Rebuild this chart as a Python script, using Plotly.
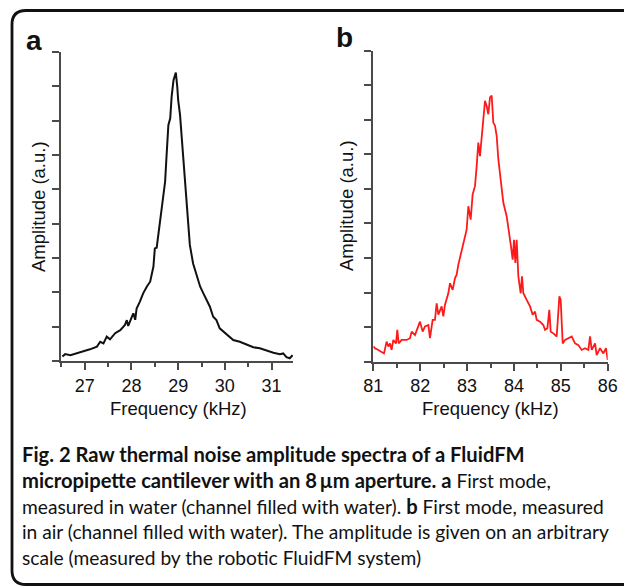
import plotly.graph_objects as go

# ---- data ----
freq_a = [26.52, 26.58, 26.69, 26.83, 26.97, 27.11, 27.26, 27.33, 27.40, 27.47,
          27.54, 27.65, 27.76, 27.86, 27.90, 27.93, 28.01, 28.04, 28.08, 28.11,
          28.18, 28.25, 28.33, 28.40, 28.47, 28.50, 28.54, 28.61, 28.68, 28.72,
          28.75, 28.79, 28.83, 28.86, 28.90, 28.93, 28.95, 28.98, 29.00, 29.04,
          29.07, 29.11, 29.15, 29.18, 29.22, 29.25, 29.32, 29.40, 29.47, 29.54,
          29.61, 29.68, 29.75, 29.82, 29.89, 29.97, 30.04, 30.11, 30.18, 30.32,
          30.47, 30.61, 30.75, 30.89, 31.04, 31.18, 31.25, 31.32, 31.39, 31.45]
amp_a = [0.13, 0.20, 0.17, 0.22, 0.27, 0.34, 0.42, 0.56, 0.51, 0.71,
         0.63, 0.81, 0.90, 1.05, 1.19, 1.02, 1.29, 1.39, 1.20, 1.53,
         1.73, 1.97, 2.17, 2.31, 2.75, 3.28, 3.30, 4.00, 4.79, 5.22,
         5.95, 6.87, 7.07, 7.70, 8.18, 8.33, 8.40, 8.00, 7.60, 7.17,
         6.63, 6.05, 5.17, 4.50, 3.91, 3.38, 2.84, 2.46, 2.17, 1.97,
         1.78, 1.58, 1.29, 1.19, 0.95, 0.85, 0.76, 0.69, 0.61, 0.56,
         0.47, 0.40, 0.37, 0.30, 0.24, 0.20, 0.22, 0.11, 0.08, 0.17]

freq_b = [81.000, 81.036, 81.107, 81.178, 81.228, 81.284, 81.320, 81.356, 81.391, 81.427,
          81.484, 81.512, 81.541, 81.605, 81.711, 81.782, 81.818, 81.889, 81.996, 82.053,
          82.102, 82.174, 82.209, 82.266, 82.316, 82.351, 82.387, 82.458, 82.494, 82.529,
          82.600, 82.636, 82.693, 82.743, 82.778, 82.814, 82.849, 82.920, 82.991, 83.027,
          83.077, 83.119, 83.169, 83.205, 83.240, 83.276, 83.312, 83.347, 83.383, 83.418,
          83.454, 83.489, 83.525, 83.560, 83.596, 83.632, 83.667, 83.703, 83.738, 83.774,
          83.845, 83.902, 83.937, 83.973, 84.001, 84.030, 84.058, 84.094, 84.144, 84.172,
          84.201, 84.272, 84.343, 84.400, 84.450, 84.485, 84.556, 84.627, 84.663, 84.713,
          84.755, 84.784, 84.841, 84.912, 84.969, 84.997, 85.040, 85.090, 85.161, 85.232,
          85.303, 85.374, 85.445, 85.516, 85.587, 85.623, 85.659, 85.730, 85.765, 85.836,
          85.907, 85.964, 86.000]
amp_b = [0.44, 0.39, 0.34, 0.29, 0.24, 0.58, 0.44, 0.53, 0.34, 0.63,
         0.53, 0.92, 0.53, 0.63, 0.63, 0.68, 0.87, 0.77, 1.16, 0.87,
         1.02, 1.06, 0.68, 1.21, 1.21, 1.69, 1.36, 1.60, 1.31, 1.65,
         1.98, 2.27, 2.08, 2.42, 2.52, 2.81, 3.00, 3.44, 3.82, 4.50,
         4.11, 4.84, 5.08, 5.66, 6.34, 5.95, 6.63, 7.02, 7.55, 7.40,
         7.16, 7.65, 7.70, 6.92, 6.83, 6.53, 5.86, 5.37, 5.08, 4.60,
         4.21, 3.73, 3.34, 2.95, 3.53, 2.86, 3.53, 2.47, 1.98, 2.47,
         1.98, 1.79, 1.60, 1.36, 1.45, 1.21, 1.16, 1.06, 0.92, 0.97,
         1.50, 0.87, 0.82, 0.73, 1.89, 1.79, 0.53, 0.63, 0.68, 0.73,
         0.53, 0.48, 0.34, 0.39, 0.34, 0.73, 0.34, 0.53, 0.19, 0.39,
         0.24, 0.39, 0.05]

ticks_a = [27, 28, 29, 30, 31]
ticks_b = [81, 82, 83, 84, 85, 86]

BOLD = "<b><span style='font-size:20.2px'>%s</span></b>"
caption_lines = [
    BOLD % "Fig. 2 Raw thermal noise amplitude spectra of a FluidFM",
    BOLD % "micropipette cantilever with an 8\u2009\u00b5m aperture. a" + " First mode,",
    "measured in water (channel filled with water). " + BOLD % "b" + " First mode, measured",
    "in air (channel filled with water). The amplitude is given on an arbitrary",
    "scale (measured by the robotic FluidFM system)",
]

W, H = 624, 586
def px(x):
    return x / W
def py(y):
    return 1 - y / H

AX = "Liberation Sans, Arial, sans-serif"
CAP = "Lato, sans-serif"
axcol = "#4a4a4a"

fig = go.Figure()
fig.add_trace(go.Scatter(x=freq_a, y=amp_a, mode="lines",
                         line=dict(color="#111111", width=2.0),
                         xaxis="x", yaxis="y", showlegend=False))
fig.add_trace(go.Scatter(x=freq_b, y=amp_b, mode="lines",
                         line=dict(color="#ff1a1a", width=1.8),
                         xaxis="x2", yaxis="y2", showlegend=False))

def xax(dom, rng, tv, anchor):
    return dict(domain=dom, range=rng, anchor=anchor, tickvals=tv,
                ticks="outside", ticklen=7, tickwidth=1.5, tickcolor=axcol,
                showline=True, linecolor=axcol, linewidth=2, showgrid=False,
                zeroline=False, tickfont=dict(family=AX, size=18, color="#111"),
                minor=dict(dtick=0.5, tick0=0, ticks="outside", ticklen=4,
                           tickwidth=1.5, tickcolor=axcol, showgrid=False),
                automargin=False, fixedrange=True)

def yax(dom, anchor):
    return dict(domain=dom, range=[0, 9], anchor=anchor, dtick=1, tick0=0,
                ticks="outside", ticklen=7, tickwidth=1.5, tickcolor=axcol,
                showticklabels=False, showline=True, linecolor=axcol,
                linewidth=2, showgrid=False, zeroline=False,
                automargin=False, fixedrange=True)

fig.update_layout(
    width=W, height=H, margin=dict(l=0, r=0, t=0, b=0, autoexpand=False),
    paper_bgcolor="white", plot_bgcolor="rgba(0,0,0,0)",
    xaxis=xax([px(61), px(293)], [26.49, 31.46], ticks_a, "y"),
    yaxis=yax([py(361), py(52)], "x"),
    xaxis2=xax([px(373.3), px(607.7)], [81, 86], ticks_b, "y2"),
    yaxis2=yax([py(361.7), py(50.7)], "x2"),
)

ann = []
def add_text(x, y, text, size, family=AX, bold=False, angle=0,
             xanchor="center", yanchor="middle"):
    ann.append(dict(x=px(x), y=py(y), xref="paper", yref="paper",
                    text=("<b>%s</b>" % text) if bold else text,
                    showarrow=False, textangle=angle,
                    xanchor=xanchor, yanchor=yanchor,
                    font=dict(family=family, size=size, color="#111")))

add_text(34, 40, "a", 28, bold=True)
add_text(344, 38, "b", 28, bold=True)
add_text(38, 207, "Amplitude (a.u.)", 18.5, angle=-90)
add_text(346, 206, "Amplitude (a.u.)", 18.5, angle=-90)
add_text(178, 408, "Frequency (kHz)", 18.5)
add_text(490, 408, "Frequency (kHz)", 18.5)

centers = [454, 480, 506, 531.5, 557]
for yc, line in zip(centers, caption_lines):
    add_text(20, yc, line, 19.2, family=CAP, xanchor="left")

fig.update_layout(annotations=ann)

# rounded border
L, T, R, B, r = 12, 10.5, 660, 584.5, 14
path = (f"M {px(L)},{py(T + r)} Q {px(L)},{py(T)} {px(L + r)},{py(T)} "
        f"L {px(R)},{py(T)} L {px(R)},{py(B)} L {px(L + r)},{py(B)} "
        f"Q {px(L)},{py(B)} {px(L)},{py(B - r)} Z")
fig.add_shape(type="path", path=path, xref="paper", yref="paper",
              line=dict(color="#111", width=2.8), fillcolor="rgba(0,0,0,0)")

fig.write_html("out.html",
               config={"displayModeBar": False},
               post_script="document.body.style.margin='0px';"
                           "document.body.style.overflow='hidden';")
